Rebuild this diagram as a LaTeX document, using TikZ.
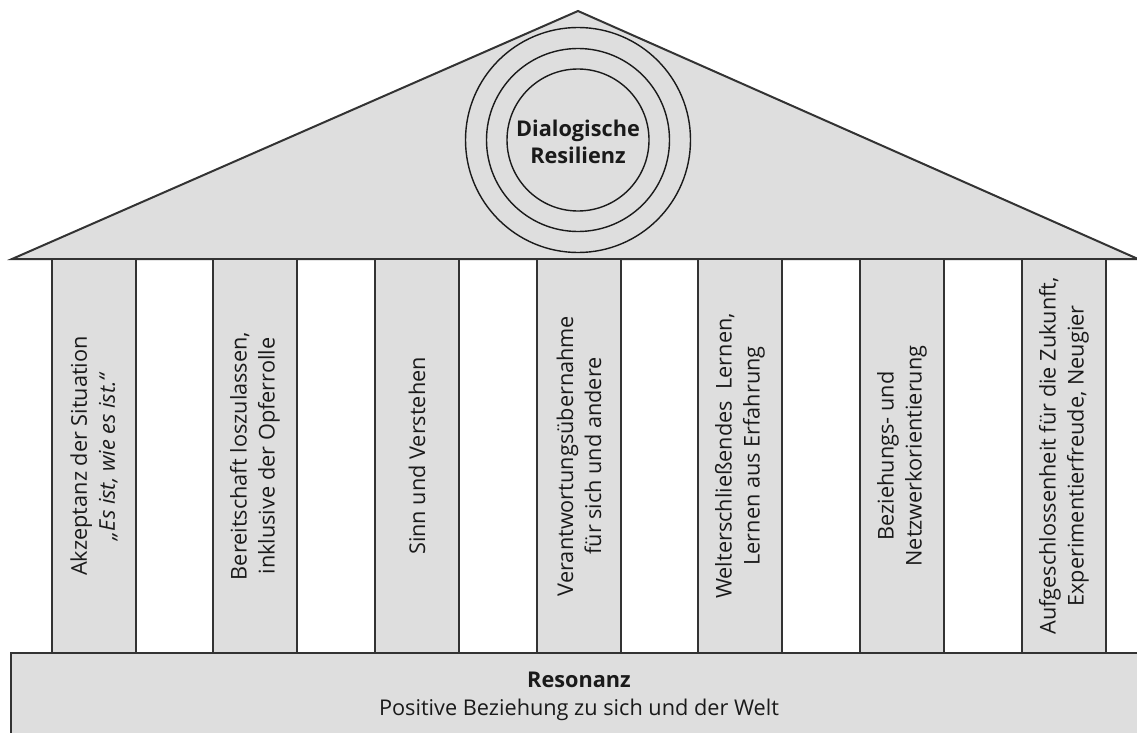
\documentclass[tikz,border=0pt]{standalone}
\usepackage{fontspec}
\setmainfont{Open Sans}
\definecolor{fillc}{HTML}{DEDEDE}
\definecolor{linec}{HTML}{333333}
\definecolor{textc}{HTML}{1A1A1A}
\begin{document}
\begin{tikzpicture}[x=1pt,y=-1pt,
  part/.style={fill=fillc, draw=linec, line width=2pt, line join=miter},
  ring/.style={circle, draw=textc, line width=1.4pt, fill=none, inner sep=0pt},
  pillar/.style={part, minimum width=84pt, minimum height=394pt, inner sep=0pt},
  plabel/.style={rotate=90, align=center, text=textc, font=\fontsize{21.7}{28}\selectfont},
  title/.style={align=center, text=textc, font=\fontsize{21.7}{27}\selectfont\bfseries}
]
\useasboundingbox (0,0) rectangle (1137,733);
\clip (0,0) rectangle (1137,733);
% roof
\coordinate (rl) at (12,259);
\coordinate (ra) at (578,11);
\coordinate (rr) at (1138,259);
\draw[part] (rl) -- (ra) -- (rr) -- cycle;
% rings
\node[ring, minimum size=225pt] (c3) at (578,140) {};
\node[ring, minimum size=183pt] (c2) at (578,140) {};
\node[ring, minimum size=142pt] (c1) at (578,140) {};
\node[title] (core) at (578,142) {Dialogische\\Resilienz};
% pillars
\node[pillar] (p1) at (94,456) {};
\node[pillar] (p2) at (255,456) {};
\node[pillar] (p3) at (417,456) {};
\node[pillar] (p4) at (579,456) {};
\node[pillar] (p5) at (740,456) {};
\node[pillar] (p6) at (902,456) {};
\node[pillar] (p7) at (1064,456) {};
\node[plabel] (t1) at (p1) {Akzeptanz der Situation\\\textit{„Es ist, wie es ist.“}};
\node[plabel] (t2) at (p2) {Bereitschaft loszulassen,\\inklusive der Opferrolle};
\node[plabel] (t3) at (p3) {Sinn und Verstehen};
\node[plabel] (t4) at (p4) {Verantwortungsübernahme\\für sich und andere};
\node[plabel] (t5) at (p5) {Welterschließendes\ \ Lernen,\\Lernen aus Erfahrung};
\node[plabel] (t6) at (p6) {Beziehungs- und\\Netzwerkorientierung};
\node[plabel] (t7) at (p7) {Aufgeschlossenheit für die Zukunft,\\Experimentierfreude, Neugier};
% base
\draw[part] (11,760) -- (11,653) -- (1160,653) -- (1160,760) -- cycle;
\node[align=center, text=textc, font=\fontsize{21.7}{28}\selectfont] (base) at (579,696) {\textbf{Resonanz}\\Positive Beziehung zu sich und der Welt};
\end{tikzpicture}
\end{document}
